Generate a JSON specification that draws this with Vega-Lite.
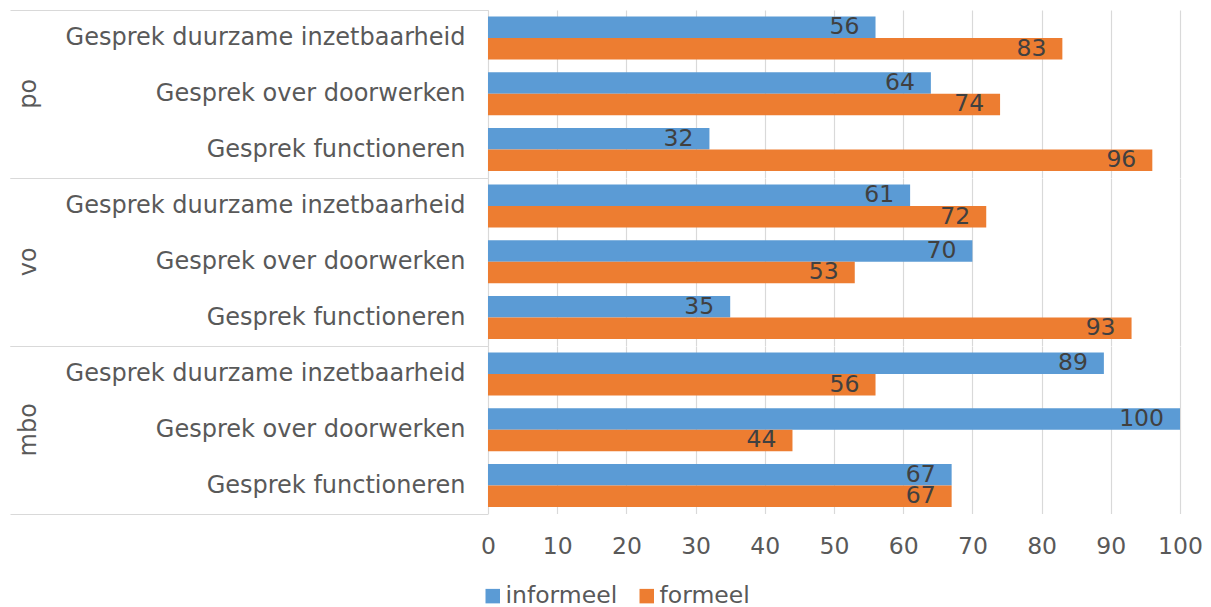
{
  "$schema": "https://vega.github.io/schema/vega-lite/v6.json",
  "padding": {"left": 9, "top": 9, "right": 5, "bottom": 0},
  "background": "white",
  "data": {"values": [
    {"sector": "po", "type": "Gesprek duurzame inzetbaarheid", "series": "informeel", "value": 56},
    {"sector": "po", "type": "Gesprek duurzame inzetbaarheid", "series": "formeel", "value": 83},
    {"sector": "po", "type": "Gesprek over doorwerken", "series": "informeel", "value": 64},
    {"sector": "po", "type": "Gesprek over doorwerken", "series": "formeel", "value": 74},
    {"sector": "po", "type": "Gesprek functioneren", "series": "informeel", "value": 32},
    {"sector": "po", "type": "Gesprek functioneren", "series": "formeel", "value": 96},
    {"sector": "vo", "type": "Gesprek duurzame inzetbaarheid", "series": "informeel", "value": 61},
    {"sector": "vo", "type": "Gesprek duurzame inzetbaarheid", "series": "formeel", "value": 72},
    {"sector": "vo", "type": "Gesprek over doorwerken", "series": "informeel", "value": 70},
    {"sector": "vo", "type": "Gesprek over doorwerken", "series": "formeel", "value": 53},
    {"sector": "vo", "type": "Gesprek functioneren", "series": "informeel", "value": 35},
    {"sector": "vo", "type": "Gesprek functioneren", "series": "formeel", "value": 93},
    {"sector": "mbo", "type": "Gesprek duurzame inzetbaarheid", "series": "informeel", "value": 89},
    {"sector": "mbo", "type": "Gesprek duurzame inzetbaarheid", "series": "formeel", "value": 56},
    {"sector": "mbo", "type": "Gesprek over doorwerken", "series": "informeel", "value": 100},
    {"sector": "mbo", "type": "Gesprek over doorwerken", "series": "formeel", "value": 44},
    {"sector": "mbo", "type": "Gesprek functioneren", "series": "informeel", "value": 67},
    {"sector": "mbo", "type": "Gesprek functioneren", "series": "formeel", "value": 67}
  ]},
  "facet": {
    "row": {
      "field": "sector", "type": "nominal", "sort": ["po", "vo", "mbo"],
      "header": {"title": null, "labelAngle": -90, "labelOrient": "left", "labelFont": "DejaVu Sans", "labelFontSize": 24, "labelColor": "#595959", "labelPadding": -43}
    }
  },
  "spacing": {"row": 0},
  "spec": {
    "width": 692,
    "height": 167.5,
    "encoding": {
      "y": {
        "field": "type", "type": "nominal",
        "sort": ["Gesprek duurzame inzetbaarheid", "Gesprek over doorwerken", "Gesprek functioneren"],
        "scale": {"paddingInner": 0, "paddingOuter": 0},
        "axis": {
          "title": null, "domain": true, "domainColor": "#D9D9D9", "domainWidth": 1,
          "ticks": true, "tickBand": "extent", "tickSize": 478, "tickWidth": 1,
          "tickColor": {"condition": {"test": "datum.index < 0 || datum.index === 1", "value": "#D9D9D9"}, "value": "transparent"},
          "labelFontSize": {"condition": {"test": "datum.index < 0", "value": 0}, "value": 24},
          "labelPadding": -455, "labelFont": "DejaVu Sans", "labelColor": "#595959", "labelLimit": 0, "grid": false
        }
      },
      "yOffset": {"field": "series", "type": "nominal", "sort": ["informeel", "formeel"], "scale": {"paddingInner": 0, "paddingOuter": 0.3}},
      "x": {
        "field": "value", "type": "quantitative", "scale": {"domain": [0, 100], "nice": false},
        "axis": {"title": null, "domain": false, "ticks": false, "grid": true, "gridColor": "#D9D9D9", "gridWidth": 1.2,
          "values": [0, 10, 20, 30, 40, 50, 60, 70, 80, 90, 100], "labelFlush": false,
          "labelFont": "DejaVu Sans", "labelFontSize": 23.5, "labelColor": "#595959", "labelPadding": 20}
      }
    },
    "layer": [
      {
        "mark": {"type": "bar"},
        "encoding": {
          "color": {"field": "series", "type": "nominal",
            "scale": {"domain": ["informeel", "formeel"], "range": ["#5B9BD5", "#ED7D31"]},
            "legend": {"title": null, "orient": "none", "legendX": -7, "legendY": 574, "direction": "horizontal", "symbolType": "square", "symbolSize": 210,
              "symbolStrokeWidth": 0, "labelFont": "DejaVu Sans", "labelFontSize": 23.5, "labelColor": "#595959", "labelOffset": 1, "columnPadding": 17}}
        }
      },
      {
        "mark": {"type": "text", "align": "right", "baseline": "middle", "dx": -16, "font": "DejaVu Sans", "fontSize": 23.5, "color": "#404040"},
        "encoding": {"text": {"field": "value", "type": "quantitative"}}
      }
    ]
  },
  "config": {"view": {"stroke": null}}
}
